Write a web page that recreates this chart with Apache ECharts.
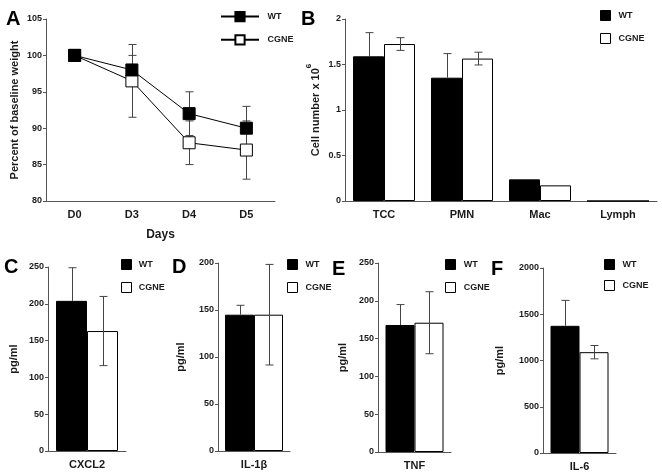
<!DOCTYPE html>
<html><head><meta charset="utf-8">
<script src="https://cdn.jsdelivr.net/npm/echarts@6/dist/echarts.min.js"></script>
<style>html,body{margin:0;padding:0;background:#fff}#c{width:662px;height:474px}</style>
</head><body><div id="c"></div>
<script>
// ---- data ----
const days = ['D0', 'D3', 'D4', 'D5'];
const weightWT = [100, 98, 92, 90];
const weightWTErr = [0, 2, 3, 3];
const weightCGNE = [100, 96.5, 88, 87];
const weightCGNEErr = [0, 5, 3, 4];
const weightTicks = [80, 85, 90, 95, 100, 105];

const cellTypes = ['TCC', 'PMN', 'Mac', 'Lymph'];
const cellWT = [1.59, 1.355, 0.238, 0];
const cellWTErr = [0.26, 0.265, 0, 0];
const cellCGNE = [1.725, 1.565, 0.172, 0];
const cellCGNEErr = [0.07, 0.07, 0, 0];
const cellTicks = [0, 0.5, 1, 1.5, 2];

const cxcl2Cat = ['CXCL2'];
const cxcl2WT = [204], cxcl2WTErr = [45];
const cxcl2CGNE = [163], cxcl2CGNEErr = [47];
const cxcl2Ticks = [0, 50, 100, 150, 200, 250];

const il1bCat = ['IL-1β'];
const il1bWT = [145], il1bWTErr = [10];
const il1bCGNE = [145], il1bCGNEErr = [53.5];
const il1bTicks = [0, 50, 100, 150, 200];

const tnfCat = ['TNF'];
const tnfWT = [168], tnfWTErr = [27];
const tnfCGNE = [171], tnfCGNEErr = [41];
const tnfTicks = [0, 50, 100, 150, 200, 250];

const il6Cat = ['IL-6'];
const il6WT = [1375], il6WTErr = [275];
const il6CGNE = [1090], il6CGNEErr = [72];
const il6Ticks = [0, 500, 1000, 1500, 2000];

const legendNames = ['WT', 'CGNE'];
const panelLetters = ['A', 'B', 'C', 'D', 'E', 'F'];

// ---- styling helpers ----
const FONT = '"Liberation Sans", Arial, Helvetica, sans-serif';
const AX = '#555', TX = '#1a1a1a', ERR = '#444';

function yAx(gi, ticks, name, gap, extra) {
  return Object.assign({
    type: 'value', gridIndex: gi,
    min: ticks[0], max: ticks[ticks.length - 1], interval: ticks[1] - ticks[0],
    name: name, nameLocation: 'middle', nameGap: gap,
    nameTextStyle: { fontFamily: FONT, fontSize: 11, fontWeight: 'bold', color: TX },
    axisLine: { show: true, lineStyle: { color: AX, width: 1 } },
    axisTick: { show: true, length: 3, lineStyle: { color: AX } },
    splitLine: { show: false },
    axisLabel: { fontFamily: FONT, fontSize: 9, fontWeight: 'bold', color: TX, margin: 4,
      formatter: function (v) { return String(v); } }
  }, extra || {});
}
function xAx(gi, cats, name, gap) {
  return {
    type: 'category', gridIndex: gi, data: cats, boundaryGap: true,
    name: name || '', nameLocation: 'middle', nameGap: gap || 20,
    nameTextStyle: { fontFamily: FONT, fontSize: 12, fontWeight: 'bold', color: TX },
    axisLine: { show: true, lineStyle: { color: AX, width: 1 } },
    axisTick: { show: false },
    axisLabel: { fontFamily: FONT, fontSize: 11, fontWeight: 'bold', color: TX, margin: 8 }
  };
}
function errSeries(gi, vals, errs, shift, twoSided, capHalf, z) {
  return {
    type: 'custom', xAxisIndex: gi, yAxisIndex: gi, z: z, silent: true,
    data: vals.map((v, i) => [i, v, errs[i]]),
    encode: { x: 0, y: 1 },
    renderItem: function (params, api) {
      const i = api.value(0), v = api.value(1), e = api.value(2);
      if (!e) return null;
      const hi = api.coord([i, v + e]);
      const lo = api.coord([i, twoSided ? v - e : v]);
      const x = Math.round(hi[0] + shift) + 0.5;
      const st = { stroke: ERR, lineWidth: 1 };
      const ch = [
        { type: 'line', shape: { x1: x, y1: hi[1], x2: x, y2: lo[1] }, style: st },
        { type: 'line', shape: { x1: x - capHalf, y1: hi[1], x2: x + capHalf, y2: hi[1] }, style: st }
      ];
      if (twoSided) ch.push({ type: 'line', shape: { x1: x - capHalf, y1: lo[1], x2: x + capHalf, y2: lo[1] }, style: st });
      return { type: 'group', children: ch };
    }
  };
}
function barPair(gi, wt, wtErr, cg, cgErr, bw) {
  return [
    { type: 'bar', name: legendNames[0], xAxisIndex: gi, yAxisIndex: gi, data: wt, barWidth: bw, barGap: '0%',
      itemStyle: { color: '#000', borderColor: '#000', borderWidth: 1 }, z: 2, silent: true },
    { type: 'bar', name: legendNames[1], xAxisIndex: gi, yAxisIndex: gi, data: cg, barWidth: bw, barGap: '0%',
      itemStyle: { color: '#fff', borderColor: '#000', borderWidth: 1 }, z: 2, silent: true },
    errSeries(gi, wt, wtErr, -bw / 2, false, 4, 3),
    errSeries(gi, cg, cgErr, bw / 2, true, 4, 3)
  ];
}
function legText(p) { return { fontFamily: FONT, fontSize: 9, fontWeight: 'bold', color: TX, padding: [0, 0, 0, p] }; }
function rectLegend(left, top, gap, p) {
  return {
    orient: 'vertical', left: left, top: top, itemWidth: 10, itemHeight: 10, itemGap: gap,
    selectedMode: false, textStyle: legText(p),
    data: [
      { name: legendNames[0], icon: 'rect', itemStyle: { color: '#000', borderColor: '#000', borderWidth: 1 } },
      { name: legendNames[1], icon: 'rect', itemStyle: { color: '#fff', borderColor: '#000', borderWidth: 1 } }
    ]
  };
}
const letterPos = [[6, 9], [301, 9], [4, 257], [172, 257], [332, 259], [491, 259]];

const option = {
  animation: false,
  backgroundColor: '#fff',
  title: panelLetters.map((t, k) => ({
    text: t, left: letterPos[k][0], top: letterPos[k][1], padding: 0,
    textStyle: { fontFamily: FONT, fontSize: 20, fontWeight: 'bold', color: '#000' }
  })),
  grid: [
    { left: 46, top: 19, width: 229, height: 182 },
    { left: 345, top: 19, width: 312, height: 182 },
    { left: 48, top: 267, width: 78, height: 184 },
    { left: 218, top: 263, width: 72, height: 188 },
    { left: 378, top: 263, width: 73, height: 189 },
    { left: 543, top: 268, width: 73, height: 185 }
  ],
  xAxis: [
    xAx(0, days, 'Days', 28),
    xAx(1, cellTypes),
    xAx(2, cxcl2Cat),
    xAx(3, il1bCat),
    xAx(4, tnfCat),
    xAx(5, il6Cat)
  ],
  yAxis: [
    yAx(0, weightTicks, 'Percent of baseline weight', 26),
    yAx(1, cellTicks, '{n|Cell number x 10}{s|6}', 24, {
      nameTextStyle: { fontFamily: FONT, fontWeight: 'bold', color: TX,
        rich: {
          n: { fontFamily: FONT, fontSize: 11, fontWeight: 'bold', color: TX, lineHeight: 16, verticalAlign: 'bottom' },
          s: { fontFamily: FONT, fontSize: 8, fontWeight: 'bold', color: TX, lineHeight: 16, verticalAlign: 'top' }
        } }
    }),
    yAx(2, cxcl2Ticks, 'pg/ml', 29),
    yAx(3, il1bTicks, 'pg/ml', 32),
    yAx(4, tnfTicks, 'pg/ml', 30),
    yAx(5, il6Ticks, 'pg/ml', 38)
  ],
  legend: [
    { orient: 'vertical', left: 215, top: 6, itemWidth: 38, itemHeight: 11.5, itemGap: 12,
      selectedMode: false, textStyle: legText(3.5), data: legendNames },
    rectLegend(595, 5, 12, 3),
    rectLegend(116, 254, 12, 2.2),
    rectLegend(282, 254, 12, 3),
    rectLegend(440, 254, 12, 3.3),
    rectLegend(599, 254, 10, 3)
  ],
  series: [
    { type: 'line', name: legendNames[0], xAxisIndex: 0, yAxisIndex: 0, data: weightWT,
      symbol: 'rect', symbolSize: 12, lineStyle: { color: '#000', width: 1 },
      itemStyle: { color: '#000', borderColor: '#000', borderWidth: 1 }, z: 5, silent: true },
    { type: 'line', name: legendNames[1], xAxisIndex: 0, yAxisIndex: 0, data: weightCGNE,
      symbol: 'rect', symbolSize: 12, lineStyle: { color: '#000', width: 1 },
      itemStyle: { color: '#fff', borderColor: '#000', borderWidth: 1 }, z: 4, silent: true },
    errSeries(0, weightWT, weightWTErr, 0, true, 4, 2),
    errSeries(0, weightCGNE, weightCGNEErr, 0, true, 4, 2)
  ].concat(
    barPair(1, cellWT, cellWTErr, cellCGNE, cellCGNEErr, 31),
    barPair(2, cxcl2WT, cxcl2WTErr, cxcl2CGNE, cxcl2CGNEErr, 31),
    barPair(3, il1bWT, il1bWTErr, il1bCGNE, il1bCGNEErr, 29),
    barPair(4, tnfWT, tnfWTErr, tnfCGNE, tnfCGNEErr, 29),
    barPair(5, il6WT, il6WTErr, il6CGNE, il6CGNEErr, 29)
  )
};
const chart = echarts.init(document.getElementById('c'), null, { renderer: 'canvas' });
chart.setOption(option);
</script></body></html>
